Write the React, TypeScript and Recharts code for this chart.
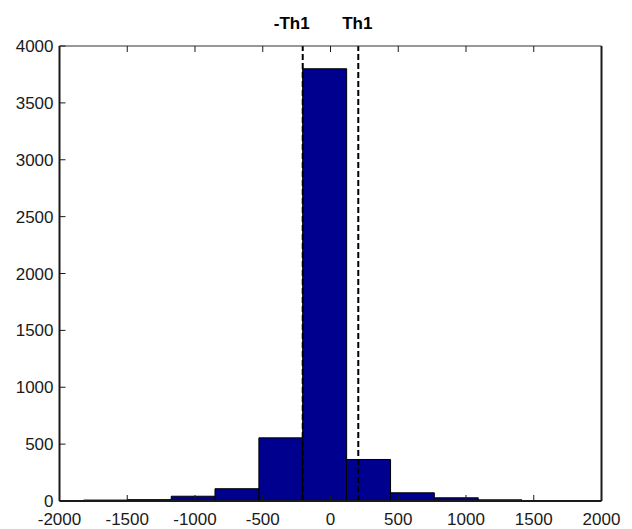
import { ComposedChart, Bar, XAxis, YAxis, ReferenceLine } from "recharts";

// histogram bins (centre of each bin) and their counts
const binCenters = [-1661, -1338, -1014, -691, -367, -44, 280, 603, 927, 1250];
const binCounts = [8, 12, 42, 108, 555, 3800, 365, 72, 28, 10];

const xTicks = [-2000, -1500, -1000, -500, 0, 500, 1000, 1500, 2000];
const yTicks = [0, 500, 1000, 1500, 2000, 2500, 3000, 3500, 4000];

const thresholds = [
  { value: -205, label: "-Th1", dx: -11 },
  { value: 205, label: "Th1", dx: -1 },
];

const data = binCenters.map((x, i) => ({ x, count: binCounts[i] }));

const W = 632;
const H = 529;
const INK = "#1a1a1a";
const TICK_LEN = 6;

// matlab-style ticks: short marks pointing into the plot box
type TickProps = { x: number; y: number; payload: { value: number } };

const BottomTick = ({ x, y, payload }: TickProps) => (
  <g>
    <line x1={x} y1={y} x2={x} y2={y - TICK_LEN} stroke={INK} />
    <text x={x} y={y + 24} textAnchor="middle" fill={INK} fontSize={17}>
      {payload.value}
    </text>
  </g>
);

const TopTick = ({ x, y }: TickProps) => (
  <line x1={x} y1={y} x2={x} y2={y + TICK_LEN} stroke={INK} />
);

const LeftTick = ({ x, y, payload }: TickProps) => (
  <g>
    <line x1={x} y1={y} x2={x + TICK_LEN} y2={y} stroke={INK} />
    <text x={x - 6} y={y} dy="0.36em" textAnchor="end" fill={INK} fontSize={17}>
      {payload.value}
    </text>
  </g>
);

const RightTick = ({ x, y }: TickProps) => (
  <line x1={x} y1={y} x2={x - TICK_LEN} y2={y} stroke={INK} />
);

export default function App() {
  return (
    <div
      style={{
        position: "absolute",
        left: 0,
        top: 0,
        fontFamily: '"Liberation Sans", Arial, Helvetica, sans-serif',
        background: "#fff",
      }}
    >
      <ComposedChart
        width={W}
        height={H}
        data={data}
        margin={{ top: 0, right: 0, bottom: 0, left: 0 }}
        barCategoryGap={0}
        barGap={0}
      >
        <XAxis
          xAxisId="bottom"
          dataKey="x"
          type="number"
          domain={[-2000, 2000]}
          ticks={xTicks}
          height={28}
          tickSize={0}
          tickMargin={0}
          tickLine={false}
          tick={BottomTick}
          axisLine={{ stroke: INK, strokeWidth: 2 }}
          interval={0}
        />
        <XAxis
          xAxisId="top"
          orientation="top"
          dataKey="x"
          type="number"
          domain={[-2000, 2000]}
          ticks={xTicks}
          height={46}
          tickSize={0}
          tickMargin={0}
          tickLine={false}
          tick={TopTick}
          axisLine={{ stroke: "#333", strokeWidth: 1.2 }}
          interval={0}
        />
        <YAxis
          yAxisId="left"
          type="number"
          domain={[0, 4000]}
          ticks={yTicks}
          width={59.5}
          tickSize={0}
          tickMargin={0}
          tickLine={false}
          tick={LeftTick}
          axisLine={{ stroke: INK, strokeWidth: 2 }}
          interval={0}
        />
        <YAxis
          yAxisId="right"
          orientation="right"
          type="number"
          domain={[0, 4000]}
          ticks={yTicks}
          width={30.5}
          tickSize={0}
          tickMargin={0}
          tickLine={false}
          tick={RightTick}
          axisLine={{ stroke: INK, strokeWidth: 2 }}
          interval={0}
        />
        <Bar
          xAxisId="bottom"
          yAxisId="left"
          dataKey="count"
          fill="#00008f"
          stroke="#000"
          strokeWidth={1}
          isAnimationActive={false}
        />
        {thresholds.map((t) => (
          <ReferenceLine
            key={t.label}
            xAxisId="bottom"
            yAxisId="left"
            x={t.value}
            stroke="#000"
            strokeWidth={2}
            strokeDasharray="6 3"
            label={{
              value: t.label,
              position: "top",
              offset: 17,
              dx: t.dx,
              fill: "#000",
              fontSize: 17,
              fontWeight: "bold",
            }}
          />
        ))}
      </ComposedChart>
    </div>
  );
}
